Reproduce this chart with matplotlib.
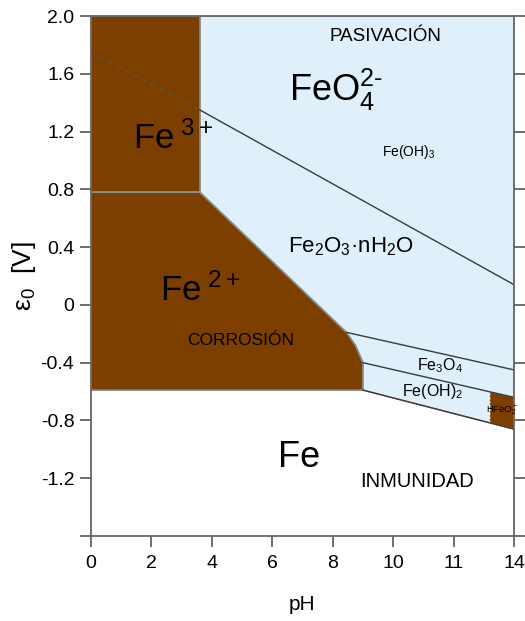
#!/usr/bin/env python3
"""
Diagrama de Pourbaix simplificado del hierro (E vs pH).
Regiones de corrosion, pasivacion e inmunidad.
"""

import matplotlib.pyplot as plt
from matplotlib.patches import Polygon

FONT = ['Liberation Sans', 'DejaVu Sans']
plt.rcParams.update({
    'font.family': FONT,
    'mathtext.fontset': 'custom',
    'mathtext.rm': 'Liberation Sans',
    'mathtext.it': 'Liberation Sans',
    'mathtext.default': 'regular',
})

BROWN = '#7d3f00'
BLUE = '#dff0fa'
EDGE = '#8a8a8a'
LINE = '#3a3a3a'

# Regiones (pH, E en V)
fe3_ph = [0, 3.6, 3.6, 0]
fe3_e = [0.78, 0.78, 2.0, 2.0]

fe2_ph = [0, 3.6, 8.45, 8.75, 9.0, 9.0, 0]
fe2_e = [0.78, 0.78, -0.19, -0.28, -0.40, -0.59, -0.59]

pas_ph = [3.6, 14, 14, 9.0, 9.0, 8.75, 8.45, 3.6]
pas_e = [2.0, 2.0, -0.86, -0.59, -0.40, -0.28, -0.19, 0.78]

hfeo2_ph = [13.2, 14, 14, 13.2]
hfeo2_e = [-0.60, -0.64, -0.86, -0.817]

# Fronteras internas
feo4_ph = [3.6, 14]
feo4_e = [1.35, 0.14]
feo4_dash_ph = [0, 3.6]
feo4_dash_e = [1.75, 1.35]
fe3o4_ph = [8.45, 14]
fe3o4_e = [-0.19, -0.45]
feoh2_top_ph = [9.0, 14]
feoh2_top_e = [-0.40, -0.64]
feoh2_bot_ph = [9.0, 14]
feoh2_bot_e = [-0.59, -0.86]

x_ticks = [0, 2, 4, 6, 8, 10, 12, 14]
x_labels = ['0', '2', '4', '6', '8', '10', '11', '14']
y_ticks = [2.0, 1.6, 1.2, 0.8, 0.4, 0, -0.4, -0.8, -1.2, -1.6]
y_labels = ['2.0', '1.6', '1.2', '0.8', '0.4', '0', '-0.4', '-0.8', '-1.2', '']

fig = plt.figure(figsize=(5.25, 6.21), dpi=100)
ax = fig.add_axes([0.1733, 0.1369, 0.8057, 0.8373])

ax.add_patch(Polygon(list(zip(pas_ph, pas_e)), closed=True, facecolor=BLUE,
                     edgecolor=EDGE, linewidth=1.0))
ax.add_patch(Polygon(list(zip(fe3_ph, fe3_e)), closed=True, facecolor=BROWN,
                     edgecolor=EDGE, linewidth=1.2))
ax.add_patch(Polygon(list(zip(fe2_ph, fe2_e)), closed=True, facecolor=BROWN,
                     edgecolor=EDGE, linewidth=1.2))
ax.add_patch(Polygon(list(zip(hfeo2_ph, hfeo2_e)), closed=True, facecolor=BROWN,
                     edgecolor='white', linewidth=0.8, linestyle=(0, (2, 1.5))))

ax.plot(feo4_ph, feo4_e, color=LINE, linewidth=1.0)
ax.plot(feo4_dash_ph, feo4_dash_e, color='#555555', linewidth=1.0,
        linestyle=(0, (3, 4)))
ax.plot(fe3o4_ph, fe3o4_e, color=LINE, linewidth=1.0)
ax.plot(feoh2_top_ph, feoh2_top_e, color=LINE, linewidth=1.0)
ax.plot(feoh2_bot_ph, feoh2_bot_e, color=LINE, linewidth=1.0)

# Etiquetas de regiones
ax.text(9.73, 1.86, 'PASIVACIÓN', fontsize=13.5, ha='center', va='center')
ax.text(8.1, 1.49, r'FeO$_4^{2\text{-}}$', fontsize=26, ha='center', va='center')
ax.text(10.5, 1.06, r'Fe(OH)$_3$', fontsize=10, ha='center', va='center')
ax.text(2.7, 1.15, r'Fe$^{\ 3+}$', fontsize=25, ha='center', va='center')
ax.text(8.6, 0.40, r'Fe$_2$O$_3$·nH$_2$O', fontsize=16, ha='center', va='center')
ax.text(3.6, 0.10, r'Fe$^{\ 2+}$', fontsize=25, ha='center', va='center')
ax.text(4.95, -0.25, 'CORROSIÓN', fontsize=12.5, ha='center', va='center')
ax.text(11.55, -0.42, r'Fe$_3$O$_4$', fontsize=11.5, ha='center', va='center')
ax.text(11.3, -0.60, r'Fe(OH)$_2$', fontsize=11.5, ha='center', va='center')
ax.text(13.6, -0.73, r'HFeO$_2^-$', fontsize=6.8, ha='center', va='center')
ax.text(6.9, -1.06, 'Fe', fontsize=26, ha='center', va='center')
ax.text(10.8, -1.22, 'INMUNIDAD', fontsize=14.5, ha='center', va='center')

ax.set_xlim(0, 14)
ax.set_ylim(-1.6, 2.0)
ax.set_xticks(x_ticks)
ax.set_xticklabels(x_labels)
ax.set_yticks(y_ticks)
ax.set_yticklabels(y_labels)
ax.tick_params(axis='both', direction='out', length=8, width=1.2,
               color='#555555', labelsize=14, pad=4)
ax.tick_params(axis='y', right=True, labelright=False)
ax.tick_params(axis='x', pad=6)

for side in ['left', 'right', 'top', 'bottom']:
    ax.spines[side].set_color('#666666')
    ax.spines[side].set_linewidth(1.3)

ax.set_xlabel('pH', fontsize=15, labelpad=16)
ax.set_ylabel(r'ε$_0$  [V]', fontsize=19, labelpad=2)

fig.savefig('out.png', dpi=100)
